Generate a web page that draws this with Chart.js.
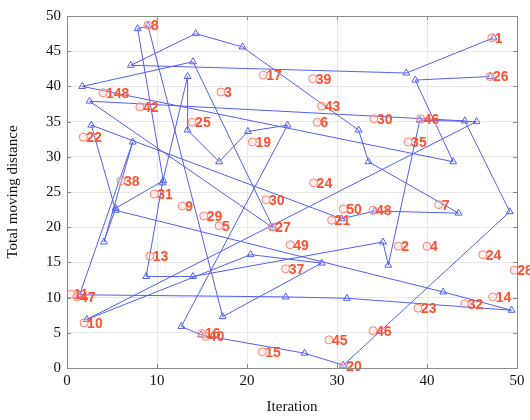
<!DOCTYPE html>
<html><head><meta charset="utf-8">
<script src="https://cdn.jsdelivr.net/npm/chart.js@4/dist/chart.umd.min.js"></script>
<style>html,body{margin:0;padding:0;background:#fff}#wrap{width:530px;height:420px}</style>
</head><body><div id="wrap"><canvas id="c" width="530" height="420"></canvas></div>
<script>
const xTicks = [0,10,20,30,40,50];
const yTicks = [0,5,10,15,20,25,30,35,40,45,50];

// red labelled nodes
const nodeLabels = ["1","26","8","17","39","3","148","42","43","25","6","30","46","22","19","35","38","24","31","9","7","30","50","48","29","21","5","27","49","2","4","13","24","37","28","11","47","14","32","23","10","16","40","45","15","46","20"];
const nodeX = [47.2,47.0,9.0,21.8,27.3,17.1,4.0,8.1,28.3,13.9,27.8,34.1,39.3,1.8,20.6,37.9,6.0,27.4,9.7,12.8,41.3,22.1,30.7,34.0,15.2,29.4,16.9,22.8,24.8,36.8,40.0,9.2,46.2,24.3,49.7,0.4,1.1,47.3,44.2,39.0,1.9,15.0,15.4,29.1,21.7,34.0,30.7];
const nodeY = [46.9,41.4,48.7,41.6,41.1,39.2,39.1,37.1,37.2,34.9,34.9,35.4,35.4,32.8,32.1,32.1,26.6,26.3,24.7,23.0,23.2,23.9,22.6,22.4,21.6,21.0,20.2,20.0,17.5,17.3,17.3,15.9,16.1,14.1,13.9,10.5,10.1,10.1,9.1,8.5,6.4,4.9,4.5,4.0,2.3,5.3,0.2];

// blue path (visiting order)
const pathX = [47.0,38.7,42.9,1.7,14.0,22.9,2.5,44.2,49.2,30.7,26.4,14.9,12.7,24.5,20.1,16.9,13.4,13.4,10.6,8.8,14.0,35.1,35.7,39.2,45.5,2.2,20.4,28.3,17.3,9.0,7.85,10.7,5.4,4.1,7.3,1.4,24.3,31.1,49.4,41.8,5.4,2.7,30.5,34.2,43.5,33.5,32.4,19.5,14.3,7.1,37.7,47.4];
const pathY = [41.4,40.9,29.3,40.0,43.5,19.9,37.9,35.1,22.2,0.4,2.1,4.7,5.9,34.5,33.6,29.3,33.8,41.4,26.3,13.0,13.0,17.9,14.6,35.2,35.0,6.9,16.1,14.9,7.3,48.6,48.2,26.6,22.7,17.9,32.1,10.4,10.1,9.9,8.2,10.8,22.4,34.5,21.2,22.3,22.0,29.3,33.8,45.6,47.5,43.0,41.9,46.9];

const BLUE = '#5060f0';
const RED = '#ff5030';

const labelPlugin = {
  id:'nodeLabels',
  afterDatasetsDraw(chart){
    const ctx = chart.ctx, xs = chart.scales.x, ys = chart.scales.y;
    ctx.save();
    ctx.fillStyle = RED;
    ctx.font = 'bold 14px "Liberation Sans", Arial, sans-serif';
    ctx.textBaseline = 'middle';
    ctx.textAlign = 'left';
    for (let i=0;i<nodeLabels.length;i++){
      ctx.fillText(nodeLabels[i], xs.getPixelForValue(nodeX[i])+3, ys.getPixelForValue(nodeY[i])+1);
    }
    ctx.restore();
  }
};
const framePlugin = {
  id:'frame',
  afterDraw(chart){
    const {ctx, chartArea:a, scales:{x,y}} = chart;
    ctx.save();
    ctx.strokeStyle = '#8a8a8a';
    ctx.lineWidth = 1;
    ctx.strokeRect(a.left+0.5, a.top+0.5, a.right-a.left, a.bottom-a.top);
    ctx.beginPath();
    for (const v of xTicks){ const p = Math.round(x.getPixelForValue(v))+0.5; ctx.moveTo(p,a.bottom); ctx.lineTo(p,a.bottom-4); ctx.moveTo(p,a.top); ctx.lineTo(p,a.top+4);}
    for (const v of yTicks){ const p = Math.round(y.getPixelForValue(v))+0.5; ctx.moveTo(a.left,p); ctx.lineTo(a.left+4,p); ctx.moveTo(a.right,p); ctx.lineTo(a.right-4,p);}
    ctx.stroke();
    ctx.restore();
  }
};

new Chart(document.getElementById('c'), {
  type:'scatter',
  data:{datasets:[
    {label:'path', data: pathX.map((v,i)=>({x:v,y:pathY[i]})), showLine:true, borderColor:BLUE, backgroundColor:'rgba(0,0,0,0)', borderWidth:1, pointStyle:'triangle', pointRadius:4, pointBorderColor:BLUE, pointBorderWidth:1, order:2},
    {label:'nodes', data: nodeX.map((v,i)=>({x:v,y:nodeY[i]})), showLine:false, pointStyle:'circle', pointRadius:4, pointBorderColor:'#ff8070', pointBackgroundColor:'rgba(255,200,200,0.3)', pointBorderWidth:1, order:1}
  ]},
  plugins:[labelPlugin, framePlugin],
  options:{
    responsive:false, animation:false,
    layout:{padding:{top:16,right:13,left:0,bottom:0}},
    plugins:{legend:{display:false}, tooltip:{enabled:false}},
    scales:{
      x:{type:'linear', min:0, max:50, afterBuildTicks(s){s.ticks=xTicks.map(v=>({value:v}));},
        afterFit(s){s.height=52;},
        border:{display:false},
        grid:{color:'#e8e8e8', tickLength:0, drawTicks:false},
        ticks:{color:'#111', padding:4, font:{family:'"Liberation Serif", serif', size:15}},
        title:{display:true, text:'Iteration', color:'#111', padding:{top:2}, font:{family:'"Liberation Serif", serif', size:15}}},
      y:{type:'linear', min:0, max:50, afterBuildTicks(s){s.ticks=yTicks.map(v=>({value:v}));},
        afterFit(s){s.width=67;},
        border:{display:false},
        grid:{color:'#e8e8e8', tickLength:0, drawTicks:false},
        ticks:{color:'#111', padding:6, font:{family:'"Liberation Serif", serif', size:15}},
        title:{display:true, text:'Total moving distance', color:'#111', padding:{bottom:4}, font:{family:'"Liberation Serif", serif', size:15}}}
    }
  }
});
</script></body></html>
